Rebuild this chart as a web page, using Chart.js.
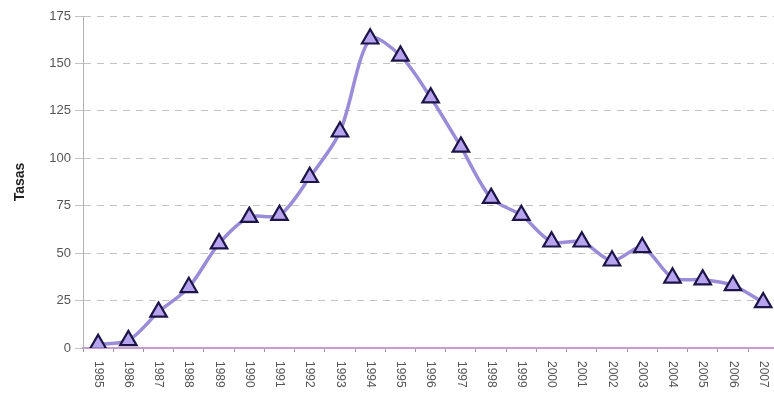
<!DOCTYPE html>
<html>
<head>
<meta charset="utf-8">
<script src="https://cdn.jsdelivr.net/npm/chart.js@4.4.0/dist/chart.umd.min.js"></script>
<style>
  html, body { margin: 0; padding: 0; background: #fff; overflow: hidden; }
  #wrap { width: 790px; height: 405px; }
</style>
</head>
<body>
<div id="wrap"><canvas id="chart" width="790" height="405"></canvas></div>
<script>
// data
const years = ['1985','1986','1987','1988','1989','1990','1991','1992','1993','1994','1995',
  '1996','1997','1998','1999','2000','2001','2002','2003','2004','2005','2006','2007'];
const tasas = [2, 4, 19, 32, 55, 69, 70, 90, 114, 163, 154,
  132, 106, 79, 70, 56, 56, 46, 53, 37, 36, 33, 24];
const yTicks = [0, 25, 50, 75, 100, 125, 150, 175];

// x labels rotated clockwise (top to bottom), like the original
const rotatedLabels = {
  id: 'rotatedLabels',
  afterDraw(chart) {
    const sx = chart.scales.x;
    const ctx = chart.ctx;
    ctx.save();
    ctx.font = '12px "Liberation Sans", Arial, sans-serif';
    ctx.fillStyle = '#555';
    ctx.textAlign = 'left';
    ctx.textBaseline = 'middle';
    years.forEach((y, i) => {
      const x = sx.getPixelForValue(i);
      ctx.save();
      ctx.translate(x, sx.top + 13);
      ctx.rotate(Math.PI / 2);
      ctx.fillText(y, 0, 0);
      ctx.restore();
    });
    ctx.restore();
  }
};

new Chart(document.getElementById('chart').getContext('2d'), {
  type: 'line',
  data: {
    labels: years,
    datasets: [{
      data: tasas,
      borderColor: '#9b8cd8',
      borderWidth: 3.5,
      tension: 0.3,
      pointStyle: 'triangle',
      pointRadius: 9.5,
      pointBackgroundColor: '#b7a4ee',
      pointBorderColor: '#1d1548',
      pointBorderWidth: 2.2
    }]
  },
  options: {
    responsive: false,
    animation: false,
    layout: { padding: { top: 16, right: 5, left: 0, bottom: 0 } },
    plugins: { legend: { display: false }, tooltip: { enabled: false } },
    scales: {
      x: {
        offset: true,
        grid: { display: true, drawOnChartArea: false, offset: true, tickLength: 4, color: '#999' },
        border: { color: '#c79ccf', width: 2 },
        ticks: { display: false },
        afterFit(s) { s.height = 57; }
      },
      y: {
        min: 0,
        max: 175,
        afterBuildTicks(s) { s.ticks = yTicks.map(v => ({ value: v })); },
        grid: { color: '#c4c4c4', tickLength: 8, tickBorderDash: [0, 0] },
        border: { color: '#b0b0b0', width: 1, dash: [7, 6] },
        ticks: {
          color: '#555',
          padding: 4,
          font: { family: '"Liberation Sans", Arial, sans-serif', size: 13 }
        },
        title: {
          display: true,
          text: 'Tasas',
          color: '#222',
          font: { family: '"Liberation Sans", Arial, sans-serif', size: 14, weight: 'bold' },
          padding: { top: 12, bottom: 0 }
        },
        afterFit(s) { s.width = 83; }
      }
    }
  },
  plugins: [rotatedLabels]
});
</script>
</body>
</html>
